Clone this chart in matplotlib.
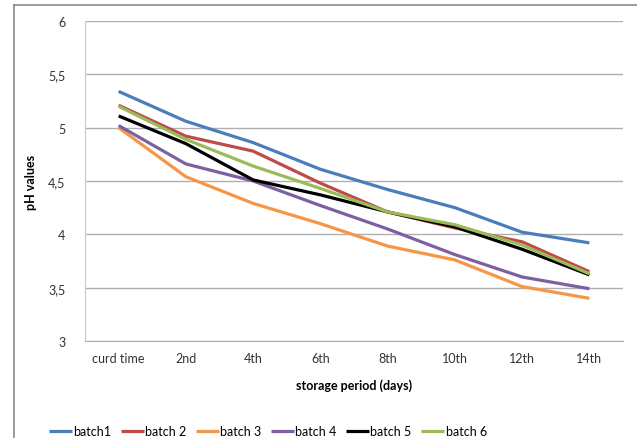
import matplotlib
matplotlib.use("Agg")
import matplotlib.pyplot as plt
from matplotlib.lines import Line2D
from matplotlib.ticker import FuncFormatter

plt.rcParams["font.family"] = ["Lato", "DejaVu Sans"]

days = ["curd time", "2nd", "4th", "6th", "8th", "10th", "12th", "14th"]
batch1 = [5.34, 5.06, 4.86, 4.61, 4.42, 4.25, 4.02, 3.92]
batch2 = [5.21, 4.92, 4.78, 4.48, 4.21, 4.06, 3.93, 3.65]
batch3 = [5.00, 4.54, 4.29, 4.10, 3.89, 3.76, 3.51, 3.40]
batch4 = [5.02, 4.66, 4.50, 4.27, 4.05, 3.81, 3.60, 3.49]
batch5 = [5.11, 4.85, 4.51, 4.37, 4.21, 4.07, 3.86, 3.62]
batch6 = [5.20, 4.89, 4.64, 4.43, 4.21, 4.09, 3.90, 3.63]
names = ["batch1", "batch 2", "batch 3", "batch 4", "batch 5", "batch 6"]
colors = ["#4A7EBB", "#BE4B48", "#F79646", "#7D60A0", "#000000", "#9BBB59"]

fig = plt.figure(figsize=(6.37, 4.39), dpi=100)
ax = fig.add_axes([85 / 637, 1 - 342 / 439, 538 / 637, 320 / 439])

x = range(len(days))
for ys, name, c in zip([batch1, batch2, batch3, batch4, batch5, batch6], names, colors):
    ax.plot(x, ys, color=c, lw=2.3, label=name, solid_capstyle="butt")

ax.set_xlim(-0.5, len(days) - 0.5)
ax.set_ylim(3, 6)
ax.set_yticks([3, 3.5, 4, 4.5, 5, 5.5, 6])
ax.yaxis.set_major_formatter(FuncFormatter(lambda v, p: f"{v:g}".replace(".", ",")))
ax.set_xticks(list(x))
ax.set_xticklabels(days)
ax.tick_params(length=0, labelsize=9, colors="#333333", pad=8)
ax.tick_params(axis="y", pad=14)
ax.grid(axis="y", color="#b0b0b0", lw=1)
ax.set_axisbelow(True)
for s in ["top", "right"]:
    ax.spines[s].set_visible(False)
ax.spines["left"].set_color("#c8c8c8")
ax.spines["bottom"].set_color("#b0b0b0")

ax.set_ylabel("pH values", fontsize=9, fontweight="bold", labelpad=8)
ax.set_xlabel("storage period (days)", fontsize=9, fontweight="bold", labelpad=10)

fig.legend(loc="center", bbox_to_anchor=(268 / 637, 1 - 432 / 439), ncol=6,
           frameon=False, fontsize=9, handlelength=1.8, handletextpad=0.15,
           columnspacing=0.75)

# outer chart border (partially visible)
fig.add_artist(Line2D([14 / 637, 14 / 637], [0, 1 - 6 / 439], color="#8a8a8a", lw=1.2))
fig.add_artist(Line2D([14 / 637, 1], [1 - 6 / 439, 1 - 6 / 439], color="#8a8a8a", lw=1.2))

fig.savefig("out.png", dpi=100)
